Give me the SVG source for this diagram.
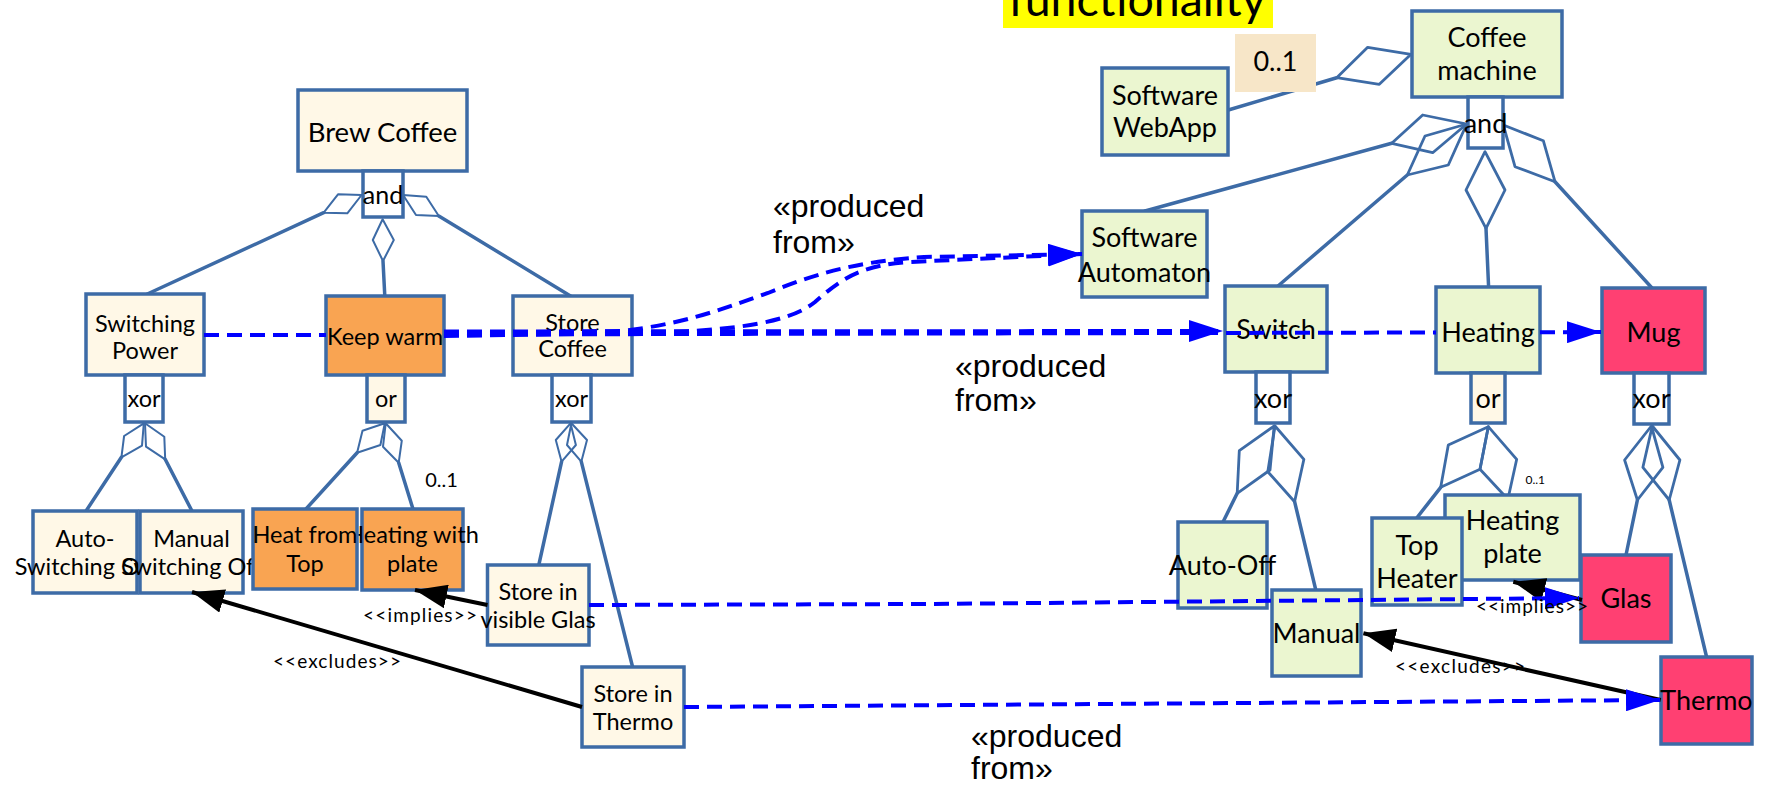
<svg xmlns="http://www.w3.org/2000/svg" width="1766" height="785" viewBox="0 0 1766 785">
  <defs>
    <style>
      .box { stroke: #3D6BA6; stroke-width: 3.5; }
      .cream { fill: #FFF8E7; }
      .green { fill: #EBF6D0; }
      .orange { fill: #F9A452; }
      .pink { fill: #FF4072; }
      .white { fill: #FFFFFF; }
      .t { font-family: Lato, "Liberation Sans", sans-serif; fill: #000; text-anchor: middle; }
      .big { font-size: 27px; }
      .mid { font-size: 23.5px; }
      .link { stroke: #3D6BA6; stroke-width: 3.5; fill: none; stroke-linecap: round; }
      .dia { stroke: #3D6BA6; stroke-width: 2; fill: none; stroke-linejoin: round; }
      .diaR { stroke: #3D6BA6; stroke-width: 2.8; fill: none; stroke-linejoin: round; }
      .dep { stroke: #0000FF; stroke-width: 4; stroke-dasharray: 15 8; fill: none; }
      .cons { stroke: #000; stroke-width: 4; fill: none; }
      .stereo { font-family: "Liberation Sans", Arial, sans-serif; font-size: 32px; fill: #000; }
      .small { font-family: Lato, "Liberation Sans", sans-serif; font-size: 19px; fill: #000; text-anchor: middle; }
    </style>
    <marker id="blueHead" markerUnits="userSpaceOnUse" markerWidth="34" markerHeight="22" refX="34" refY="11" orient="auto">
      <path d="M0,0 L34,11 L0,22 z" fill="#0000FF"/>
    </marker>
    <marker id="blackHead" markerUnits="userSpaceOnUse" markerWidth="32" markerHeight="24" refX="32" refY="12" orient="auto">
      <path d="M0,0 L32,12 L0,24 z" fill="#000"/>
    </marker>
  </defs>

  <!-- title strip -->
  <g id="title">
    <rect x="1003" y="-30" width="270" height="58" fill="#FFFF00"/>
    <text class="t" x="1137" y="15.7" font-size="46.5">functionality</text>
  </g>

  <!-- aggregation links of the feature trees -->
  <g id="tree-links">
    <!-- Brew Coffee (and) -->
    <polygon class="dia" points="323.7,212.7 338,194.3 361.6,195 347.3,213.3"/>
    <polygon class="dia" points="403.1,195 426.3,196.7 438.8,216 416,215"/>
    <polygon class="dia" points="382.6,219.3 372.8,240 383,261 393.8,240"/>
    <line class="link" x1="323.7" y1="212.7" x2="147.3" y2="294"/>
    <line class="link" x1="383" y1="261" x2="384.8" y2="296"/>
    <line class="link" x1="438.8" y1="216" x2="570.5" y2="296"/>
    <!-- Switching Power (xor) -->
    <polygon class="dia" points="143.8,423.3 124.1,436 121.4,457.3 142,445.7"/>
    <polygon class="dia" points="145,423.3 164.3,436.7 165.2,459.3 146,446.7"/>
    <line class="link" x1="121.4" y1="457.3" x2="86" y2="511"/>
    <line class="link" x1="165.2" y1="459.3" x2="192" y2="511"/>
    <!-- Keep warm (or) -->
    <polygon class="dia" points="384.8,423.3 362.5,430.7 357.1,452.7 380.4,445"/>
    <polygon class="dia" points="385.7,423.3 401.8,440.7 398.7,462.7 383,446.7"/>
    <line class="link" x1="357.1" y1="452.7" x2="306" y2="509"/>
    <line class="link" x1="398.7" y1="462.7" x2="413" y2="509"/>
    <!-- Store Coffee (xor) -->
    <polygon class="dia" points="570.5,423.3 555.8,440 561.6,461.7 575.9,445"/>
    <polygon class="dia" points="571.4,423.3 587,440 581.3,461.7 567,445"/>
    <line class="link" x1="561.6" y1="461.7" x2="538.8" y2="565"/>
    <line class="link" x1="581.3" y1="461.7" x2="632.6" y2="667"/>

    <!-- Coffee machine -->
    <polygon class="diaR" points="1336.7,77.7 1367.7,47.3 1411,54.3 1379.3,84.3"/>
    <line class="link" x1="1336.7" y1="77.7" x2="1228.3" y2="110"/>
    <polygon class="diaR" points="1466.7,124 1422.7,115 1391.7,143.3 1432.7,152.7"/>
    <polygon class="diaR" points="1466.7,124 1425,136 1407.3,175 1448.3,165"/>
    <polygon class="diaR" points="1485,151.7 1466,190 1486,228.3 1505,190"/>
    <polygon class="diaR" points="1503.3,125 1543.3,140.7 1555,181.7 1515,166.7"/>
    <line class="link" x1="1391.7" y1="143.3" x2="1145" y2="211"/>
    <line class="link" x1="1407.3" y1="175" x2="1278" y2="286"/>
    <line class="link" x1="1486" y1="228.3" x2="1488.6" y2="287"/>
    <line class="link" x1="1555" y1="181.7" x2="1652" y2="288"/>
    <!-- Switch (xor) -->
    <polygon class="diaR" points="1274.2,426 1239.3,450.7 1237.2,493.3 1270,470"/>
    <polygon class="diaR" points="1275,426 1303.9,459.3 1294.6,501.7 1267.8,471.7"/>
    <line class="link" x1="1237.2" y1="493.3" x2="1223" y2="522"/>
    <line class="link" x1="1294.6" y1="501.7" x2="1315.8" y2="590"/>
    <!-- Heating (or) -->
    <polygon class="diaR" points="1488.3,426.7 1448.3,445 1440.7,487.3 1480,469.3"/>
    <polygon class="diaR" points="1488.3,426.7 1516.7,459.3 1507.9,499.3 1480,469.3"/>
    <line class="link" x1="1440.7" y1="487.3" x2="1416.7" y2="518"/>
    <!-- Mug (xor) -->
    <polygon class="diaR" points="1651.4,426 1624.6,460 1637.4,500 1662.9,467.3"/>
    <polygon class="diaR" points="1652.3,426 1679.9,460 1669.2,500 1642.9,467.3"/>
    <line class="link" x1="1637.4" y1="500" x2="1626" y2="555"/>
    <line class="link" x1="1669.2" y1="500" x2="1706.6" y2="657"/>
  </g>

  <!-- left tree: Brew Coffee -->
  <g id="brew-coffee">
    <rect class="box cream" x="298" y="90" width="169" height="81"/>
    <text class="t" font-size="27.5" x="382.5" y="141.7">Brew Coffee</text>
  </g>
  <g id="brew-coffee-and">
    <rect class="box white" x="363" y="171" width="40" height="46"/>
    <text class="t" font-size="25" x="383" y="204">and</text>
  </g>
  <g id="switching-power">
    <rect class="box cream" x="86" y="294" width="118" height="81"/>
    <text class="t mid" x="145" y="331.5">Switching</text>
    <text class="t mid" x="145" y="358.5">Power</text>
  </g>
  <g id="keep-warm">
    <rect class="box orange" x="326" y="296" width="118" height="79"/>
    <text class="t mid" x="385" y="345">Keep warm</text>
  </g>
  <g id="store-coffee">
    <rect class="box cream" x="513" y="296" width="119" height="79"/>
    <text class="t mid" x="572.5" y="330.5">Store</text>
    <text class="t mid" x="572.5" y="356.5">Coffee</text>
  </g>
  <g id="switching-power-xor">
    <rect class="box white" x="125" y="375" width="38" height="47"/>
    <text class="t mid" x="144" y="406.7">xor</text>
  </g>
  <g id="keep-warm-or">
    <rect class="box cream" x="367" y="375" width="38" height="47"/>
    <text class="t mid" x="386" y="406.7">or</text>
  </g>
  <g id="store-coffee-xor">
    <rect class="box white" x="552" y="375" width="39" height="47"/>
    <text class="t mid" x="571.5" y="406.7">xor</text>
  </g>
  <g id="auto-switching-off">
    <rect class="box cream" x="33" y="511" width="104" height="82"/>
    <text class="t mid" x="85" y="546.7">Auto-</text>
    <text class="t mid" x="85" y="575">Switching Off</text>
  </g>
  <g id="manual-switching-off">
    <rect class="box cream" x="140" y="511" width="103" height="82"/>
    <text class="t mid" x="191.5" y="546.7">Manual</text>
    <text class="t mid" x="191.5" y="575">Switching Off</text>
  </g>
  <g id="heating-with-plate">
    <rect class="box orange" x="362" y="509" width="101" height="81"/>
    <text class="t mid" x="412.5" y="542.7">Heating with</text>
    <text class="t mid" x="412.5" y="571.7">plate</text>
  </g>
  <g id="heat-from-top">
    <rect class="box orange" x="253" y="509" width="104" height="80"/>
    <text class="t mid" x="305" y="542.7">Heat from</text>
    <text class="t mid" x="305" y="571.7">Top</text>
  </g>
  <g id="store-in-visible-glas">
    <rect class="box cream" x="487.5" y="565" width="101.5" height="80"/>
    <text class="t mid" x="538" y="600">Store in</text>
    <text class="t mid" x="538" y="628.3">visible Glas</text>
  </g>
  <g id="store-in-thermo">
    <rect class="box cream" x="582" y="667" width="102" height="80"/>
    <text class="t mid" x="633" y="701.7">Store in</text>
    <text class="t mid" x="633" y="730">Thermo</text>
  </g>

  <!-- right tree: Coffee machine -->
  <g id="coffee-machine">
    <rect class="box green" x="1412" y="11" width="150" height="86"/>
    <text class="t big" x="1487" y="46.7">Coffee</text>
    <text class="t big" x="1487" y="80">machine</text>
  </g>
  <g id="coffee-machine-and">
    <rect class="box white" x="1468" y="97" width="35" height="51"/>
    <text class="t big" x="1485.5" y="133.3">and</text>
  </g>
  <g id="software-webapp">
    <rect class="box green" x="1102" y="68" width="126" height="87"/>
    <text class="t big" x="1165" y="105">Software</text>
    <text class="t big" x="1165" y="137">WebApp</text>
  </g>
  <g id="software-automaton">
    <rect class="box green" x="1082" y="211" width="125" height="86"/>
    <text class="t big" x="1144.5" y="246.7">Software</text>
    <text class="t big" x="1144.5" y="281.7">Automaton</text>
  </g>
  <g id="switch">
    <rect class="box green" x="1225" y="286" width="102" height="86"/>
    <text class="t big" x="1276" y="339.3">Switch</text>
  </g>
  <g id="heating">
    <rect class="box green" x="1436" y="287" width="104" height="86"/>
    <text class="t big" x="1488" y="341.7">Heating</text>
  </g>
  <g id="mug">
    <rect class="box pink" x="1602" y="288" width="103" height="85"/>
    <text class="t big" x="1653.5" y="341.7">Mug</text>
  </g>
  <g id="switch-xor">
    <rect class="box white" x="1256" y="372" width="34" height="51"/>
    <text class="t big" x="1273" y="408">xor</text>
  </g>
  <g id="heating-or">
    <rect class="box cream" x="1471" y="373" width="34" height="50"/>
    <text class="t big" x="1488" y="408">or</text>
  </g>
  <g id="mug-xor">
    <rect class="box white" x="1634" y="373" width="35" height="51"/>
    <text class="t big" x="1651.5" y="408">xor</text>
  </g>
  <g id="auto-off">
    <rect class="box green" x="1178" y="522" width="89" height="86"/>
    <text class="t big" x="1222.5" y="575">Auto-Off</text>
  </g>
  <g id="manual">
    <rect class="box green" x="1272" y="590" width="89" height="86"/>
    <text class="t big" x="1316.5" y="643.3">Manual</text>
  </g>
  <g id="heating-plate">
    <rect class="box green" x="1445" y="495" width="135" height="85"/>
    <text class="t big" x="1512.5" y="530">Heating</text>
    <text class="t big" x="1512.5" y="563">plate</text>
  </g>
  <g id="top-heater">
    <rect class="box green" x="1372" y="518" width="90" height="87"/>
    <text class="t big" x="1417" y="555">Top</text>
    <text class="t big" x="1417" y="588.3">Heater</text>
  </g>
  <g id="glas">
    <rect class="box pink" x="1581" y="555" width="90" height="87"/>
    <text class="t big" x="1626" y="608.3">Glas</text>
  </g>
  <g id="thermo">
    <rect class="box pink" x="1661" y="657" width="91" height="87"/>
    <text class="t big" x="1706.5" y="710">Thermo</text>
  </g>

  <!-- produced-from and constraint dependencies -->
  <g id="dependencies">
    <path class="dep" d="M204,335 L326,335 M444,334.5 L1436,332.5 M1540,332.3 L1601,332" marker-end="url(#blueHead)"/>
    <path class="dep" d="M444,331.5 L1223,331" marker-end="url(#blueHead)"/>
    <path class="dep" d="M444,333 L620,331 C680,325 720,310 768,293 C810,276 850,262 924,257 L1082,254" marker-end="url(#blueHead)"/>
    <path class="dep" d="M444,336 L650,333 C740,330 790,322 815,302 C840,280 860,265 910,262 L1082,254" marker-end="url(#blueHead)"/>
    <path class="cons" d="M582,707 L192,592" marker-end="url(#blackHead)"/>
    <path class="cons" d="M487.5,605 L415,590" marker-end="url(#blackHead)"/>
    <path class="cons" d="M1660.7,700 L1363.4,633.3" marker-end="url(#blackHead)"/>
    <path class="cons" d="M1582,600 L1513.3,581.7" marker-end="url(#blackHead)"/>
    <path class="dep" d="M589,605 L930,604 L1579,598" marker-end="url(#blueHead)"/>
    <path class="dep" d="M684,707 L1660,700" marker-end="url(#blueHead)"/>
  </g>

  <!-- multiplicity of the optional web app -->
  <g id="webapp-multiplicity">
    <rect x="1235" y="34" width="81" height="58" fill="#F7E6C8"/>
    <text class="t big" x="1275.5" y="70.7">0..1</text>
  </g>

  <!-- labels -->
  <g id="labels">
    <text class="stereo" x="773" y="216.7">«produced</text>
    <text class="stereo" x="773" y="253">from»</text>
    <text class="stereo" x="955" y="376.5">«produced</text>
    <text class="stereo" x="955" y="411">from»</text>
    <text class="stereo" x="971" y="746.5">«produced</text>
    <text class="stereo" x="971" y="779">from»</text>
    <text class="small" x="420" y="621.7" textLength="114" lengthAdjust="spacing">&lt;&lt;implies&gt;&gt;</text>
    <text class="small" x="337" y="668" textLength="128" lengthAdjust="spacing">&lt;&lt;excludes&gt;&gt;</text>
    <text class="small" x="1532" y="613.3" textLength="112" lengthAdjust="spacing">&lt;&lt;implies&gt;&gt;</text>
    <text class="small" x="1460" y="672.7" textLength="130" lengthAdjust="spacing">&lt;&lt;excludes&gt;&gt;</text>
    <text class="t" font-size="20" x="441.6" y="487.3">0..1</text>
    <text class="t" font-size="12" x="1535.3" y="484.3">0..1</text>
  </g>
</svg>
